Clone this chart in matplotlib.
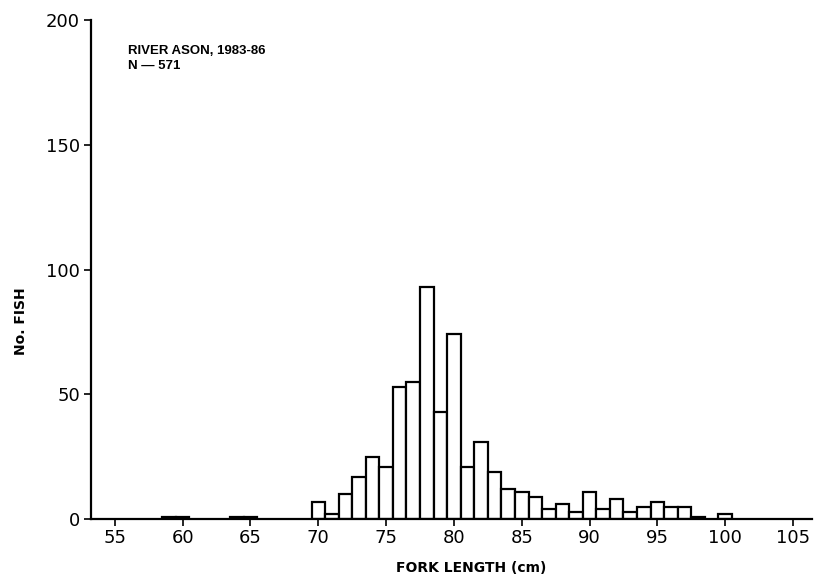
import numpy as np
import matplotlib
matplotlib.use('Agg')
import matplotlib.pyplot as plt

# fork length classes (cm) and number of fish in each 1 cm class
lengths = [59, 60, 64, 65,
           70, 71, 72, 73, 74, 75, 76, 77, 78, 79,
           80, 81, 82, 83, 84, 85, 86, 87, 88, 89,
           90, 91, 92, 93, 94, 95, 96, 97, 98, 100]
counts = [1, 1, 1, 1,
          7, 2, 10, 17, 25, 21, 53, 55, 93, 43,
          74, 21, 31, 19, 12, 11, 9, 4, 6, 3,
          11, 4, 8, 3, 5, 7, 5, 5, 1, 2]

x_ticks = [55, 60, 65, 70, 75, 80, 85, 90, 95, 100, 105]
y_ticks = [0, 50, 100, 150, 200]

plt.rcParams['font.family'] = ['DejaVu Sans']

fig = plt.figure(figsize=(8.14, 5.78), dpi=100)
ax = fig.add_axes([0.1118, 0.102, 0.8857, 0.8634])

ax.bar(lengths, counts, width=1.0, color='white', edgecolor='black', linewidth=1.6)

ax.set_xlim(53.24, 106.4)
ax.set_ylim(0, 200)
ax.set_xticks(x_ticks)
ax.set_yticks(y_ticks)
ax.tick_params(axis='both', direction='out', length=5, width=1.2, labelsize=13)
ax.tick_params(axis='x', pad=2)
ax.tick_params(axis='y', pad=3)

for side in ['top', 'right']:
    ax.spines[side].set_visible(False)
for side in ['left', 'bottom']:
    ax.spines[side].set_linewidth(1.6)

ax.set_xlabel('FORK LENGTH (cm)', fontsize=10, fontweight='bold')
ax.set_ylabel('No. FISH', fontsize=10, fontweight='bold')
ax.xaxis.set_label_coords(0.527, -0.084)
ax.yaxis.set_label_coords(-0.087, 0.397)

ax.text(55.96, 190, 'RIVER ASON, 1983-86\nN \u2014 571', fontsize=9.5, fontweight='bold',
        family='Liberation Sans', va='top', ha='left', linespacing=1.3)

plt.savefig('out.png', dpi=100)
plt.close()
